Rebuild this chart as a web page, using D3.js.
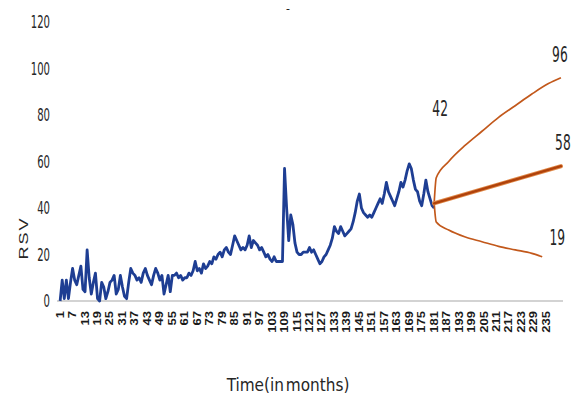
<!DOCTYPE html>
<html>
<head>
<meta charset="utf-8">
<script src="https://cdn.jsdelivr.net/npm/d3@7"></script>
<style>
  html, body { margin: 0; padding: 0; background: #fff; }
  svg { display: block; }
  text { font-family: "Liberation Sans Narrow", "Arial Narrow", "DejaVu Sans Condensed", sans-serif; fill: #262626; }
</style>
</head>
<body>
<svg id="chart" width="578" height="397"></svg>
<script>
// Monthly relative search volume (RSV), months 1..181
const rsv = [
  0, 9, 1, 9, 1, 8, 14, 9, 7, 11,
  15, 5, 4, 22, 10, 3, 8, 12, 1, 0,
  8, 6, 1, 4, 8, 9, 11, 3, 5, 11,
  6, 2, 1, 8, 14, 12, 11, 9, 10, 8,
  12, 14, 11, 9, 7, 11, 14, 12, 9, 11,
  3, 7, 11, 4, 11, 11, 12, 10, 11, 9,
  10, 10, 12, 11, 13, 17, 13, 14, 12, 16,
  14, 15, 17, 16, 19, 18, 20, 21, 19, 22,
  23, 21, 20, 24, 28, 26, 24, 22, 23, 22,
  24, 28, 23, 26, 25, 24, 22, 23, 21, 19,
  20, 18, 17, 19, 17, 17, 17, 17, 57, 40,
  26, 37, 33, 25, 21, 20, 20, 21, 21, 21,
  23, 21, 22, 20, 18, 16, 17, 19, 20, 22,
  24, 27, 32, 30, 29, 32, 30, 28, 29, 30,
  31, 34, 38, 43, 46, 40, 38, 37, 36, 37,
  36, 38, 40, 42, 44, 42, 46, 51, 47, 45,
  43, 41, 44, 47, 51, 49, 52, 56, 59, 57,
  52, 48, 47, 43, 41, 46, 52, 47, 44, 41,
  40
];

// Forecast: central estimate and upper / lower confidence bounds
const forecastMonths = [181, 242];
const forecastValues = [42, 58];
const upperMonths = [181, 182, 188, 196, 204, 212, 220, 228, 236, 242];
const upperValues = [42, 53, 60, 67, 73, 79, 84, 89, 93.5, 96];
const lowerMonths = [181, 182, 188, 196, 204, 212, 220, 228, 233];
const lowerValues = [42, 34, 30.5, 27.5, 25.5, 23.5, 22, 20.5, 19];

// Value callouts on the forecast
const callouts = [
  { text: "42", month: 181, value: 42, dx: 6, dy: -95 },
  { text: "96", month: 242, value: 96, dx: -1, dy: -24 },
  { text: "58", month: 242, value: 58, dx: 2, dy: -24 },
  { text: "19", month: 233, value: 19, dx: 15, dy: -20 }
];

const yTicks = [0, 20, 40, 60, 80, 100, 120];
const xTicks = d3.range(1, 236, 6);

const svg = d3.select("#chart");

const x = d3.scaleLinear().domain([-0.5, 243]).range([57, 563]);
const y = d3.scaleLinear().domain([0, 120]).range([301, 22]);

// baseline
svg.append("line")
  .attr("x1", x(-0.5)).attr("x2", x(243))
  .attr("y1", y(0)).attr("y2", y(0))
  .attr("stroke", "#c4c4c4").attr("stroke-width", 1.5);

// y tick labels
svg.append("g").selectAll("text")
  .data(yTicks).join("text")
  .attr("transform", d => `translate(50,${y(d) + 6}) scale(0.66,1)`)
  .attr("text-anchor", "end")
  .attr("font-size", 17)
  .text(d => d);

// x tick labels (rotated)
svg.append("g").selectAll("text")
  .data(xTicks).join("text")
  .attr("transform", d => `translate(${x(d) + 3.5},311) scale(0.8,1) rotate(-90)`)
  .attr("text-anchor", "end")
  .attr("font-size", 13)
  .attr("font-weight", "bold")
  .style("font-family", "'Liberation Sans', Arial, sans-serif")
  .style("fill", "#1a1a1a")
  .text(d => d);

// axis titles
svg.append("text")
  .attr("transform", `translate(28,238) scale(0.75,1) rotate(-90)`)
  .attr("text-anchor", "middle")
  .attr("font-size", 18)
  .attr("letter-spacing", 2)
  .style("font-family", "'Liberation Sans', Arial, sans-serif")
  .text("RSV");

svg.append("text")
  .attr("x", 288).attr("y", 391)
  .attr("text-anchor", "middle")
  .attr("font-size", 17)
  .attr("word-spacing", -3)
  .text("Time(in months)");

svg.append("text")
  .attr("x", 288).attr("y", 13)
  .attr("text-anchor", "middle")
  .attr("font-size", 12)
  .text("-");

// observed series
const line = d3.line().x(d => x(d[0])).y(d => y(d[1]));
svg.append("path")
  .datum(rsv.map((v, i) => [i + 1, v]))
  .attr("d", line)
  .attr("fill", "none")
  .attr("stroke", "#1e3e93")
  .attr("stroke-width", 2.8)
  .attr("stroke-linejoin", "round");

// forecast bounds
const smooth = d3.line().x(d => x(d[0])).y(d => y(d[1])).curve(d3.curveMonotoneX);
svg.append("path")
  .datum(upperMonths.map((m, i) => [m, upperValues[i]]))
  .attr("d", smooth)
  .attr("fill", "none")
  .attr("stroke", "#c2581b")
  .attr("stroke-width", 1.7);
svg.append("path")
  .datum(lowerMonths.map((m, i) => [m, lowerValues[i]]))
  .attr("d", smooth)
  .attr("fill", "none")
  .attr("stroke", "#c2581b")
  .attr("stroke-width", 1.7);

// forecast central line
svg.append("path")
  .datum(forecastMonths.map((m, i) => [m, forecastValues[i]]))
  .attr("d", line)
  .attr("fill", "none")
  .attr("stroke", "#e08a4a")
  .attr("stroke-width", 4.2)
  .attr("stroke-linecap", "round");
svg.append("path")
  .datum(forecastMonths.map((m, i) => [m, forecastValues[i]]))
  .attr("d", line)
  .attr("fill", "none")
  .attr("stroke", "#b0420b")
  .attr("stroke-width", 2.4)
  .attr("stroke-linecap", "round");

// callout labels
svg.append("g").selectAll("text")
  .data(callouts).join("text")
  .attr("transform", d => `translate(${x(d.month) + d.dx},${y(d.value) + d.dy + 8}) scale(0.62,1)`)
  .attr("text-anchor", "middle")
  .attr("font-size", 22)
  .text(d => d.text);
</script>
</body>
</html>
